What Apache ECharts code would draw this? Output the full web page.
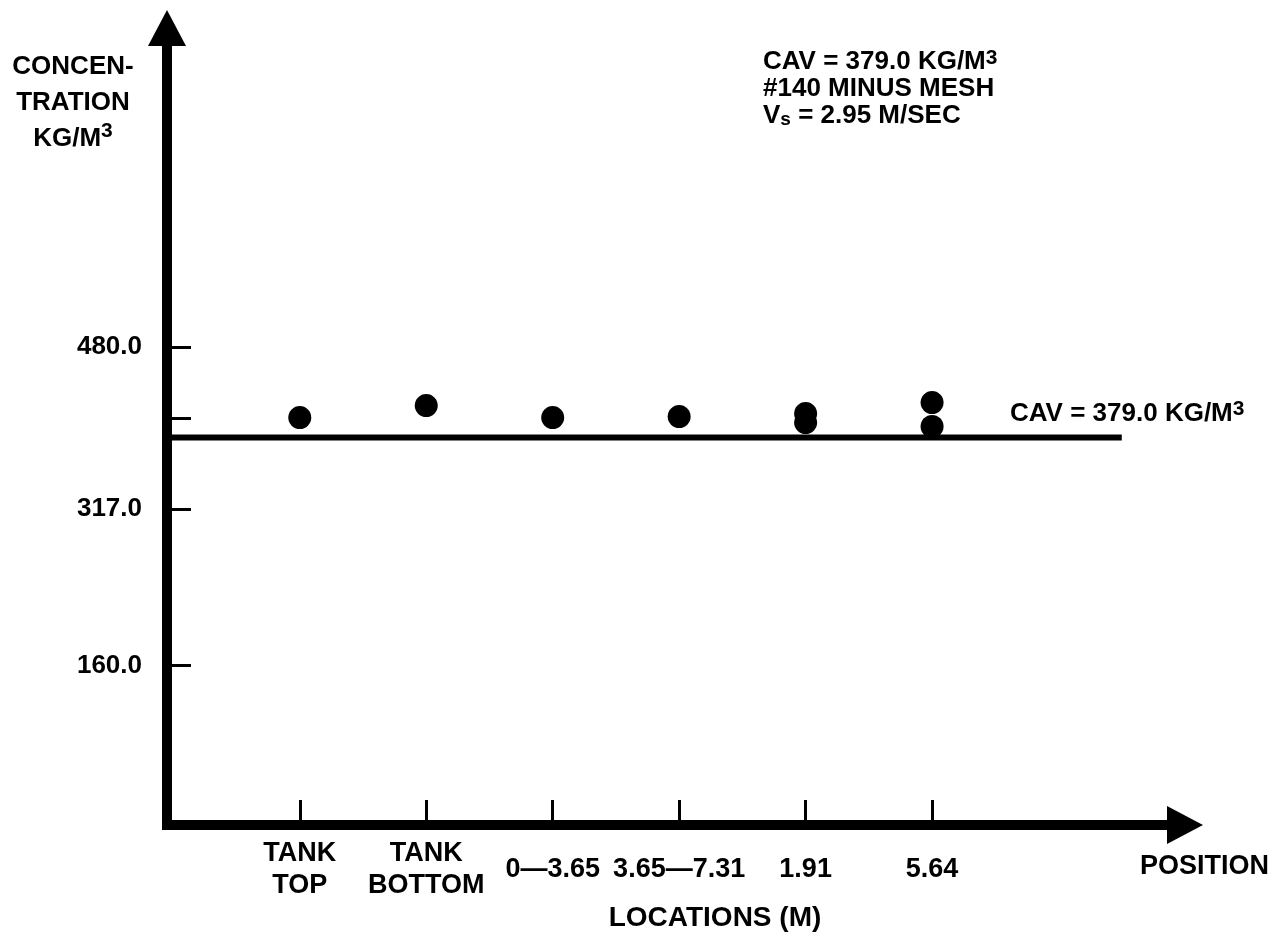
<!DOCTYPE html>
<html>
<head>
<meta charset="utf-8">
<title>Concentration by location</title>
<script src="https://cdn.jsdelivr.net/npm/echarts@6/dist/echarts.min.js"></script>
<style>
  html, body { margin: 0; padding: 0; background: #fff; }
  #chart { width: 1282px; height: 940px; }
</style>
</head>
<body>
<div id="chart"></div>
<script>
// sampling locations, left to right along the position axis
const locations = ['TANK\nTOP', 'TANK\nBOTTOM', '0—3.65', '3.65—7.31', '1.91', '5.64'];
// one entry per measured sample: location number (1 = first) and concentration
const sampleLocation = [1, 2, 3, 4, 5, 5, 6, 6];
const sampleConc = [409, 421, 409, 410, 413, 404, 424, 400];
// y axis marks
const yLabelValues = [160, 317, 480];
const yTickValues = [160, 317, 408, 480];
// average concentration line (drawn level) and its horizontal extent
const cavLevel = 389;
const cavSpan = [-0.05, 7.5];

const FONT = 'Liberation Sans';
const ink = '#000';

const chart = echarts.init(document.getElementById('chart'));

const textBase = {
  fontFamily: FONT,
  fontWeight: 'bold',
  fontSize: 26,
  fill: ink
};
const supStyle = { fontFamily: FONT, fontWeight: 'bold', fontSize: 21, lineHeight: 18, verticalAlign: 'top' };
const subStyle = { fontFamily: FONT, fontWeight: 'bold', fontSize: 19, lineHeight: 16, verticalAlign: 'bottom' };

const option = {
  backgroundColor: '#fff',
  animation: false,
  grid: { left: 167, right: 97, top: 28, bottom: 115 },
  xAxis: {
    type: 'value',
    min: -0.05,
    max: 8,
    splitLine: { show: false },
    axisLine: {
      onZero: false,
      lineStyle: { color: ink, width: 10, cap: 'square' },
      symbol: ['none', 'triangle'],
      symbolSize: [38, 36]
    },
    axisTick: {
      inside: true,
      length: 25,
      customValues: [1, 2, 3, 4, 5, 6],
      lineStyle: { color: ink, width: 3 }
    },
    axisLabel: {
      customValues: [1, 2, 3, 4, 5, 6],
      formatter: (v) => locations[Math.round(v) - 1] || '',
      margin: 45,
      verticalAlign: 'middle',
      lineHeight: 32,
      color: ink,
      fontFamily: FONT,
      fontWeight: 'bold',
      fontSize: 27
    }
  },
  yAxis: {
    type: 'value',
    min: 0,
    max: 800,
    splitLine: { show: false },
    axisLine: {
      onZero: false,
      lineStyle: { color: ink, width: 10, cap: 'square' },
      symbol: ['none', 'triangle'],
      symbolSize: [38, 36]
    },
    axisTick: {
      inside: true,
      length: 24,
      customValues: yTickValues,
      lineStyle: { color: ink, width: 3 }
    },
    axisLabel: {
      customValues: yLabelValues,
      formatter: (v) => v.toFixed(1),
      margin: 25,
      color: ink,
      fontFamily: FONT,
      fontWeight: 'bold',
      fontSize: 26
    }
  },
  series: [
    {
      name: 'CAV',
      type: 'line',
      data: [[cavSpan[0], cavLevel], [cavSpan[1], cavLevel]],
      symbol: 'none',
      lineStyle: { color: ink, width: 6 },
      z: 2
    },
    {
      name: 'samples',
      type: 'scatter',
      data: sampleLocation.map((loc, i) => [loc, sampleConc[i]]),
      symbol: 'circle',
      symbolSize: 23,
      itemStyle: { color: ink, opacity: 1 },
      z: 3
    }
  ],
  graphic: [
    {
      type: 'text',
      x: 73,
      y: 49,
      style: Object.assign({}, textBase, {
        text: 'CONCEN-\nTRATION\nKG/M{sup|3}',
        textAlign: 'center',
        textVerticalAlign: 'top',
        lineHeight: 36,
        rich: { sup: supStyle }
      })
    },
    {
      type: 'text',
      x: 763,
      y: 48,
      style: Object.assign({}, textBase, {
        text: 'CAV = 379.0 KG/M{sup|3}\n#140 MINUS MESH\nV{sub|s} = 2.95 M/SEC',
        textAlign: 'left',
        textVerticalAlign: 'top',
        lineHeight: 27,
        rich: { sup: supStyle, sub: subStyle }
      })
    },
    {
      type: 'text',
      x: 1010,
      y: 399,
      style: Object.assign({}, textBase, {
        text: 'CAV = 379.0 KG/M{sup|3}',
        textAlign: 'left',
        textVerticalAlign: 'top',
        lineHeight: 30,
        rich: { sup: supStyle }
      })
    },
    {
      type: 'text',
      x: 1140,
      y: 867,
      style: Object.assign({}, textBase, {
        text: 'POSITION',
        fontSize: 27,
        textAlign: 'left',
        textVerticalAlign: 'middle'
      })
    },
    {
      type: 'text',
      x: 715,
      y: 918,
      style: Object.assign({}, textBase, {
        text: 'LOCATIONS (M)',
        fontSize: 28,
        textAlign: 'center',
        textVerticalAlign: 'middle'
      })
    }
  ]
};

chart.setOption(option);
</script>
</body>
</html>
